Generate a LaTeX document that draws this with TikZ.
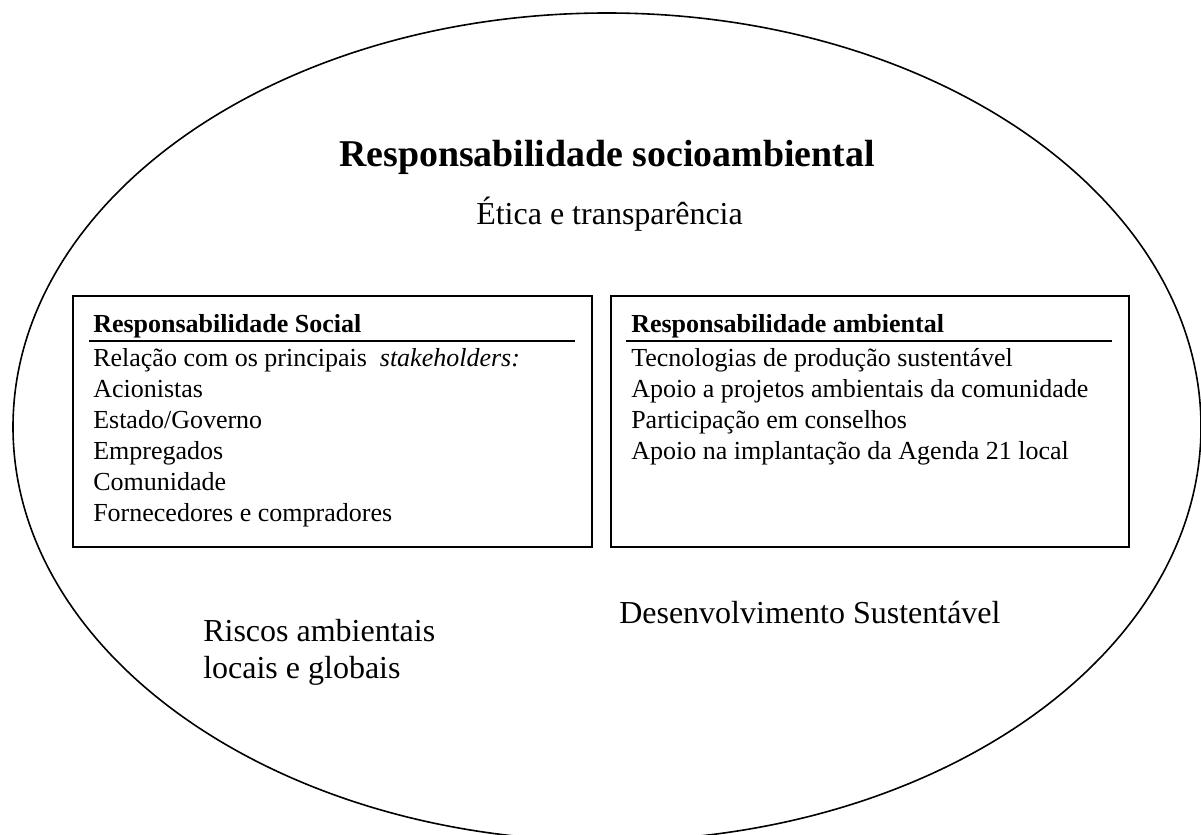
\documentclass[tikz,border=0pt]{standalone}
\usepackage{fontspec}
\setmainfont{Liberation Serif}
\begin{document}
\begin{tikzpicture}[x=0.75pt,y=-0.75pt,
  boxframe/.style={draw=black, line width=1.2pt, inner sep=0pt, anchor=north west},
  hdrline/.style={line width=1.7pt},
  bodytxt/.style={anchor=base west, inner sep=0pt, font=\fontsize{19.5pt}{22pt}\selectfont},
  hdrtxt/.style={anchor=base west, inner sep=0pt, font=\fontsize{19.5pt}{22pt}\selectfont\bfseries},
  midtxt/.style={anchor=base west, inner sep=0pt, font=\fontsize{24pt}{28pt}\selectfont},
  titletxt/.style={anchor=base west, inner sep=0pt, font=\fontsize{28.4pt}{32pt}\selectfont\bfseries}]
\useasboundingbox (0,0) rectangle (1201,834);
\fill[white] (0,0) rectangle (1201,834);
\begin{scope}
  \clip (0,0) rectangle (1201,834);
  \draw[line width=1.2pt] (607,427) ellipse [x radius=445.5pt, y radius=310.5pt];
\end{scope}
% title
\node[titletxt] (title) at (339,167) {Responsabilidade socioambiental};
\node[midtxt] (etica) at (476,224) {Ética e transparência};
% left box
\node[boxframe, minimum width=389.25pt, minimum height=188.25pt] (social) at (72,295) {};
\coordinate (sl1) at (89,341);
\coordinate (sl2) at (575,341);
\draw[hdrline] (sl1) -- (sl2);
\node[hdrtxt] (socialhdr) at (93,332) {Responsabilidade Social};
\node[bodytxt] (s1) at (93,366) {Relação com os principais\hspace{0.5em}\textit{stakeholders:}};
\node[bodytxt] (s2) at (93,397) {Acionistas};
\node[bodytxt] (s3) at (93,428) {Estado/Governo};
\node[bodytxt] (s4) at (93,459) {Empregados};
\node[bodytxt] (s5) at (93,490) {Comunidade};
\node[bodytxt] (s6) at (93,521) {Fornecedores e compradores};
% right box
\node[boxframe, minimum width=388.5pt, minimum height=188.25pt] (amb) at (610,295) {};
\coordinate (al1) at (626,341);
\coordinate (al2) at (1112,341);
\draw[hdrline] (al1) -- (al2);
\node[hdrtxt] (ambhdr) at (631,332) {Responsabilidade ambiental};
\node[bodytxt] (a1) at (631,366) {Tecnologias de produção sustentável};
\node[bodytxt] (a2) at (631,397) {Apoio a projetos ambientais da comunidade};
\node[bodytxt] (a3) at (631,428) {Participação em conselhos};
\node[bodytxt] (a4) at (631,459) {Apoio na implantação da Agenda 21 local};
% lower texts
\node[midtxt] (riscos1) at (203,641) {Riscos ambientais};
\node[midtxt] (riscos2) at (203,678) {locais e globais};
\node[midtxt] (desenv) at (619,623) {Desenvolvimento Sustentável};
\end{tikzpicture}
\end{document}
